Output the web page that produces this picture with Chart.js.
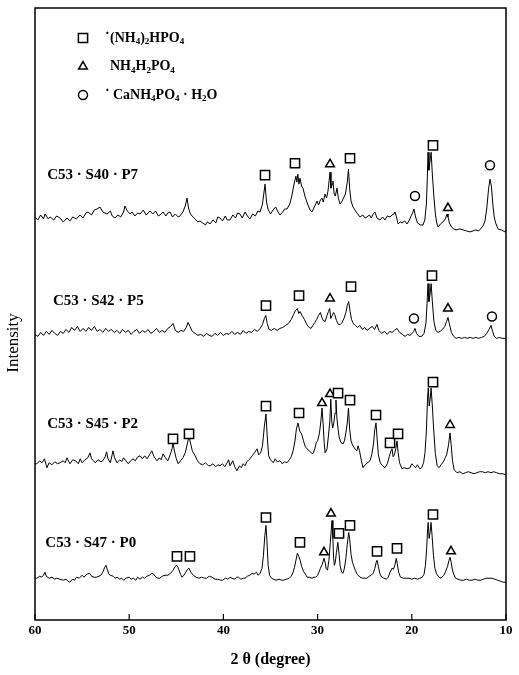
<!DOCTYPE html>
<html><head><meta charset="utf-8">
<script src="https://cdn.jsdelivr.net/npm/chart.js@4/dist/chart.umd.min.js"></script>
<style>html,body{margin:0;padding:0;background:#fff}canvas{display:block}</style>
</head><body>
<canvas id="c" width="519" height="675"></canvas>
<script>
// x tick labels (2θ, degree)
const xTicks = [60, 50, 40, 30, 20, 10];
const sampleNames = ['C53 · S40 · P7', 'C53 · S42 · P5', 'C53 · S45 · P2', 'C53 · S47 · P0'];
const legendLabels = ['(NH₄)₂HPO₄', 'NH₄H₂PO₄', 'CaNH₄PO₄ · H₂O'];

// intensity traces [2θ, stacked intensity]
const traceP7 = [[60.0,405],[59.7,402],[59.4,407],[59.1,403],[58.94,408],[58.6,403],[58.4,405],[58.0,402],[57.7,406],[57.35,404],[57.0,400],[56.6,404],[56.28,401],[56.0,405],[55.6,403],[55.22,407],[54.9,404],[54.6,409],[54.37,410],[54.0,407],[53.7,412],[53.42,413],[53.1,415],[52.8,410],[52.36,408],[52.0,411],[51.8,406],[51.5,404],[51.2,407],[50.9,405],[50.6,410],[50.45,416],[50.2,411],[49.9,408],[49.7,410],[49.4,406],[49.1,409],[48.85,408],[48.5,412],[48.2,407],[47.79,411],[47.5,408],[47.2,411],[46.9,406],[46.73,407],[46.4,410],[46.1,406],[45.9,409],[45.67,410],[45.4,405],[45.1,408],[44.8,405],[44.61,406],[44.3,410],[44.05,416],[43.86,424],[43.7,414],[43.5,408],[43.33,406],[43.0,403],[42.7,400],[42.48,401],[42.2,399],[41.9,397],[41.7,400],[41.42,398],[41.1,402],[40.8,399],[40.6,405],[40.36,404],[40.1,401],[39.8,406],[39.6,402],[39.3,402],[39.0,407],[38.7,404],[38.5,409],[38.24,408],[38.0,404],[37.7,410],[37.45,406],[37.18,403],[36.9,408],[36.6,406],[36.35,411],[36.11,410],[35.85,418],[35.58,438],[35.42,420],[35.27,413],[35.0,408],[34.73,412],[34.45,415],[34.2,410],[33.99,407],[33.7,410],[33.5,413],[33.25,413],[32.95,418],[32.72,427],[32.5,438],[32.3,446],[32.2,440],[32.1,448],[31.98,438],[31.87,444],[31.7,436],[31.55,434],[31.35,426],[31.02,417],[30.8,412],[30.59,410],[30.4,414],[30.2,418],[30.06,421],[29.9,417],[29.7,422],[29.53,424],[29.4,420],[29.21,428],[29.05,424],[28.9,431],[28.78,441],[28.68,450],[28.58,434],[28.45,438],[28.37,441],[28.25,429],[28.12,426],[27.94,434],[27.8,424],[27.62,418],[27.45,420],[27.3,423],[27.05,428],[26.85,440],[26.72,453],[26.6,434],[26.45,421],[26.24,415],[25.9,410],[25.5,405],[25.2,407],[24.95,404],[24.76,405],[24.5,407],[24.3,404],[24.1,408],[23.91,410],[23.7,404],[23.38,402],[23.1,405],[22.85,402],[22.6,406],[22.31,405],[22.1,407],[21.9,408],[21.78,410],[21.6,404],[21.46,398],[21.2,400],[21.04,399],[20.75,401],[20.51,398],[20.25,402],[20.08,406],[19.92,409],[19.77,413],[19.6,405],[19.4,399],[19.1,397],[18.81,397],[18.62,402],[18.45,418],[18.35,445],[18.28,470],[18.18,452],[18.08,460],[17.95,470],[17.82,448],[17.65,425],[17.5,408],[17.35,399],[17.22,395],[16.95,398],[16.69,400],[16.45,403],[16.25,408],[16.16,405],[16.0,399],[15.8,395],[15.55,393],[15.3,392],[14.9,393],[14.56,392],[14.2,391],[13.82,390],[13.5,391],[13.2,392],[12.9,391],[12.6,394],[12.4,397],[12.23,401],[12.05,413],[11.85,433],[11.7,443],[11.55,436],[11.4,418],[11.25,405],[11.1,399],[10.85,393],[10.5,392],[10.11,390],[10.0,392]];

const traceP5 = [[60.0,287],[59.7,285],[59.4,289],[59.1,286],[58.8,290],[58.5,287],[58.2,291],[57.9,288],[57.6,286],[57.3,290],[57.0,288],[56.7,292],[56.4,289],[56.1,294],[55.8,291],[55.5,295],[55.2,290],[54.9,293],[54.6,290],[54.3,294],[54.0,291],[53.7,295],[53.4,290],[53.1,292],[52.8,289],[52.5,293],[52.2,290],[51.9,292],[51.6,289],[51.3,291],[51.0,288],[50.7,292],[50.4,289],[50.1,291],[49.8,287],[49.5,290],[49.2,292],[48.9,288],[48.6,291],[48.3,289],[48.0,292],[47.7,288],[47.4,290],[47.1,293],[46.8,289],[46.5,291],[46.2,289],[45.9,293],[45.6,295],[45.35,298],[45.1,291],[44.8,289],[44.5,291],[44.2,290],[43.95,294],[43.75,299],[43.55,295],[43.3,290],[43.0,288],[42.7,286],[42.4,287],[42.1,285],[41.8,288],[41.5,286],[41.2,285],[40.9,288],[40.6,286],[40.3,289],[40.0,286],[39.7,288],[39.4,287],[39.1,290],[38.8,287],[38.5,289],[38.2,287],[37.9,291],[37.6,288],[37.3,290],[37.0,289],[36.7,292],[36.4,290],[36.1,293],[35.85,297],[35.65,303],[35.5,306],[35.35,298],[35.15,292],[34.9,291],[34.6,293],[34.3,291],[34.0,293],[33.7,294],[33.4,296],[33.1,298],[32.8,302],[32.55,307],[32.35,311],[32.15,313],[32.0,308],[31.85,310],[31.65,306],[31.4,302],[31.15,297],[30.9,294],[30.7,293],[30.5,296],[30.3,299],[30.1,302],[29.9,306],[29.7,309],[29.55,304],[29.4,301],[29.2,300],[29.0,306],[28.85,310],[28.72,313],[28.6,303],[28.45,306],[28.3,309],[28.18,307],[28.0,301],[27.8,297],[27.6,297],[27.4,299],[27.2,303],[27.0,309],[26.85,316],[26.7,320],[26.55,310],[26.4,302],[26.2,298],[26.0,296],[25.75,294],[25.5,296],[25.25,292],[25.0,294],[24.76,291],[24.5,293],[24.2,295],[23.95,292],[23.7,297],[23.5,291],[23.2,288],[22.9,290],[22.6,287],[22.35,290],[22.1,289],[21.85,291],[21.57,293],[21.3,289],[21.0,287],[20.72,285],[20.45,287],[20.2,286],[19.95,288],[19.8,290],[19.66,293],[19.5,288],[19.25,285],[18.95,285],[18.7,288],[18.5,298],[18.38,318],[18.28,338],[18.18,320],[18.08,326],[17.95,338],[17.82,320],[17.65,300],[17.45,291],[17.22,289],[17.0,290],[16.75,292],[16.5,295],[16.3,300],[16.16,304],[16.02,298],[15.8,289],[15.55,285],[15.3,283],[15.0,284],[14.7,283],[14.4,284],[14.1,283],[13.8,284],[13.5,283],[13.2,284],[12.9,283],[12.6,284],[12.3,285],[12.05,288],[11.8,292],[11.59,296],[11.42,290],[11.25,285],[11.0,283],[10.7,284],[10.4,283],[10.0,283]];

const traceP2 = [[60.0,157],[59.8,157],[59.5,160],[59.26,158],[59.0,162],[58.73,153],[58.5,158],[58.2,156],[57.9,159],[57.6,157],[57.35,158],[57.0,160],[56.8,158],[56.6,163],[56.4,159],[56.28,157],[56.0,161],[55.7,160],[55.4,157],[55.2,162],[55.0,158],[54.7,161],[54.4,163],[54.16,168],[54.0,162],[53.8,160],[53.6,158],[53.3,161],[53.0,159],[52.8,160],[52.55,164],[52.4,169],[52.25,162],[52.0,158],[51.72,170],[51.55,163],[51.3,158],[51.0,161],[50.8,159],[50.6,163],[50.35,160],[50.1,157],[49.85,160],[49.6,162],[49.35,160],[49.1,164],[48.85,165],[48.6,162],[48.35,165],[48.1,162],[47.85,166],[47.6,170],[47.35,164],[47.05,160],[46.8,163],[46.6,161],[46.4,167],[46.15,163],[45.9,160],[45.65,166],[45.45,172],[45.35,178],[45.2,170],[45.0,162],[44.8,157],[44.55,160],[44.3,163],[44.05,168],[43.85,176],[43.65,185],[43.5,178],[43.3,170],[43.0,165],[42.75,160],[42.48,157],[42.2,156],[41.9,158],[41.6,155],[41.4,155],[41.1,157],[40.8,154],[40.6,156],[40.36,155],[40.1,157],[39.85,154],[39.6,158],[39.45,161],[39.3,155],[39.0,160],[38.8,154],[38.56,150],[38.3,155],[38.1,153],[37.9,157],[37.7,155],[37.5,159],[37.3,161],[37.18,162],[36.95,165],[36.7,168],[36.43,172],[36.25,166],[36.05,168],[35.85,175],[35.65,195],[35.48,207],[35.35,185],[35.2,165],[35.0,161],[34.7,158],[34.5,162],[34.3,159],[34.0,160],[33.75,157],[33.5,159],[33.25,158],[33.0,161],[32.8,164],[32.6,170],[32.4,180],[32.25,192],[32.08,198],[31.9,190],[31.7,187],[31.5,180],[31.3,174],[31.1,172],[30.8,169],[30.5,167],[30.3,172],[30.15,178],[30.0,180],[29.8,188],[29.65,200],[29.53,213],[29.4,195],[29.3,178],[29.2,168],[29.0,172],[28.85,185],[28.7,200],[28.6,222],[28.5,200],[28.4,193],[28.28,198],[28.15,208],[28.05,221],[27.95,203],[27.83,192],[27.7,183],[27.5,178],[27.3,177],[27.15,180],[27.0,188],[26.85,198],[26.72,213],[26.6,192],[26.45,180],[26.3,176],[26.1,173],[25.95,171],[25.82,170],[25.7,175],[25.55,170],[25.35,160],[25.18,153],[24.95,156],[24.7,158],[24.44,160],[24.25,166],[24.05,178],[23.95,190],[23.8,198],[23.68,182],[23.55,166],[23.35,158],[23.1,155],[22.85,153],[22.6,157],[22.4,164],[22.2,170],[22.1,172],[21.98,164],[21.85,166],[21.7,172],[21.57,180],[21.45,168],[21.3,158],[21.04,152],[20.8,153],[20.5,152],[20.2,153],[20.0,157],[19.8,155],[19.6,153],[19.4,156],[19.15,152],[18.95,153],[18.75,158],[18.6,168],[18.45,190],[18.32,225],[18.25,233],[18.15,215],[18.05,222],[17.95,233],[17.82,215],[17.68,192],[17.5,167],[17.3,155],[17.1,153],[16.9,156],[16.65,159],[16.45,163],[16.3,166],[16.1,176],[15.94,188],[15.82,176],[15.68,160],[15.5,151],[15.2,148],[14.9,149],[14.6,147],[14.3,148],[14.0,149],[13.7,148],[13.4,147],[13.1,148],[12.8,149],[12.5,149],[12.2,148],[11.9,149],[11.6,148],[11.3,149],[11.0,148],[10.7,147],[10.4,147],[10.0,146]];

const traceP0 = [[60.0,42],[59.8,42],[59.5,44],[59.3,43],[59.1,45],[58.94,48],[58.8,44],[58.5,42],[58.2,43],[57.9,41],[57.7,42],[57.4,41],[57.0,40],[56.7,41],[56.5,39],[56.3,38],[56.0,41],[55.8,40],[55.6,43],[55.3,42],[55.0,45],[54.8,43],[54.5,46],[54.2,47],[54.0,44],[53.75,43],[53.5,43],[53.2,44],[53.0,45],[52.75,49],[52.6,53],[52.46,55],[52.3,50],[52.15,46],[52.0,45],[51.7,44],[51.5,42],[51.3,43],[51.0,41],[50.8,42],[50.6,40],[50.35,42],[50.0,43],[49.8,41],[49.55,42],[49.3,40],[49.1,43],[48.85,41],[48.6,43],[48.35,42],[48.1,44],[47.85,45],[47.6,47],[47.4,46],[47.15,43],[46.95,42],[46.75,42],[46.5,44],[46.2,45],[45.9,45],[45.6,47],[45.35,50],[45.1,54],[44.93,55],[44.75,51],[44.55,46],[44.4,43],[44.2,45],[44.0,48],[43.8,51],[43.65,52],[43.45,48],[43.2,45],[42.9,43],[42.6,42],[42.3,43],[42.0,42],[41.8,42],[41.5,44],[41.2,43],[40.9,41],[40.6,41],[40.3,40],[40.1,40],[39.8,42],[39.5,41],[39.3,43],[39.1,42],[38.8,41],[38.6,43],[38.4,43],[38.15,41],[37.9,42],[37.7,42],[37.45,44],[37.2,45],[36.95,47],[36.75,46],[36.5,48],[36.3,45],[36.1,47],[35.9,52],[35.75,65],[35.6,85],[35.48,95],[35.38,80],[35.25,55],[35.1,45],[34.9,42],[34.7,41],[34.4,40],[34.1,41],[33.8,40],[33.6,40],[33.3,41],[33.0,42],[32.8,44],[32.6,48],[32.45,53],[32.3,60],[32.15,67],[32.0,64],[31.85,60],[31.7,54],[31.5,49],[31.3,46],[31.1,43],[30.9,43],[30.6,42],[30.4,43],[30.2,43],[30.0,45],[29.85,48],[29.7,52],[29.5,56],[29.32,62],[29.2,58],[29.1,52],[28.95,50],[28.8,60],[28.65,78],[28.47,100],[28.38,82],[28.3,62],[28.22,55],[28.12,58],[28.0,68],[27.85,78],[27.72,66],[27.6,54],[27.45,48],[27.3,47],[27.15,52],[27.0,62],[26.85,76],[26.7,88],[26.6,82],[26.45,66],[26.3,58],[26.15,54],[26.0,50],[25.8,46],[25.5,43],[25.2,42],[24.95,42],[24.76,42],[24.5,44],[24.3,45],[24.1,47],[23.92,52],[23.78,58],[23.69,60],[23.55,54],[23.4,47],[23.2,43],[22.95,42],[22.7,41],[22.5,43],[22.31,48],[22.1,52],[21.95,51],[21.8,55],[21.65,62],[21.55,57],[21.4,48],[21.2,43],[20.9,42],[20.6,42],[20.3,42],[20.0,41],[19.7,42],[19.4,41],[19.15,42],[18.9,43],[18.7,46],[18.55,55],[18.42,72],[18.32,92],[18.26,98],[18.16,82],[18.06,88],[17.96,98],[17.85,85],[17.7,65],[17.55,52],[17.4,47],[17.2,44],[17.0,42],[16.8,43],[16.6,45],[16.4,49],[16.2,54],[16.05,60],[15.94,63],[15.82,58],[15.68,50],[15.55,46],[15.35,42],[15.1,41],[14.8,40],[14.5,40],[14.2,41],[13.9,40],[13.6,40],[13.3,41],[13.0,40],[12.7,40],[12.4,41],[12.1,42],[11.8,42],[11.5,42],[11.2,41],[10.9,40],[10.6,39],[10.3,38],[10.0,38]];

// phase markers [2θ, intensity]
const dapPeaks = [[35.58,447],[32.40,459],[26.56,464],[17.75,477],
  [35.48,316],[31.97,326],[26.45,335],[17.86,346],
  [45.35,182],[43.65,187],[35.48,215],[31.97,208],[27.83,228],[26.56,221],[23.80,206],[22.31,178],[21.46,187],[17.75,239],
  [44.93,64],[43.55,64],[35.48,103],[31.87,78],[27.73,87],[26.56,95],[23.69,69],[21.57,72],[17.75,106]];
const mapPeaks = [[28.68,458],[16.16,414],
  [28.68,323],[16.16,313],
  [29.53,218],[28.68,227],[15.94,196],
  [29.32,68],[28.58,107],[15.84,69]];
const capPeaks = [[19.66,426],[11.70,457],
  [19.77,303],[11.49,305]];

// sample label anchors [2θ, intensity]
const sampleLabelAt = [[58.7,447],[58.1,320],[58.7,197],[58.9,77]];

const toXY = a => a.map(p => ({x: p[0], y: p[1]}));
const SERIF = '"Liberation Serif", "DejaVu Serif", serif';
const SUBS = {'₀':'0','₁':'1','₂':'2','₃':'3','₄':'4','₅':'5','₆':'6','₇':'7','₈':'8','₉':'9'};

function drawRich(ctx, text, x, y, size) {
  let i = 0;
  while (i < text.length) {
    const sub = !!SUBS[text[i]];
    let seg = '';
    while (i < text.length && !!SUBS[text[i]] === sub) { seg += sub ? SUBS[text[i]] : text[i]; i++; }
    ctx.font = 'bold ' + (sub ? Math.round(size * 0.62) : size) + 'px ' + SERIF;
    ctx.fillText(seg, x, sub ? y + size * 0.28 : y);
    x += ctx.measureText(seg).width;
  }
}

const deco = {
  id: 'deco',
  afterDraw(chart) {
    const {ctx, chartArea: a, scales: {x, y}} = chart;
    ctx.save();
    ctx.strokeStyle = '#000';
    ctx.lineWidth = 1.5;
    ctx.strokeRect(a.left, a.top, a.right - a.left, a.bottom - a.top);
    ctx.lineWidth = 1.2;
    xTicks.forEach(v => {
      const px = x.getPixelForValue(v);
      ctx.beginPath(); ctx.moveTo(px, a.bottom); ctx.lineTo(px, a.bottom - 6); ctx.stroke();
    });
    ctx.fillStyle = '#000';
    ctx.textBaseline = 'middle';
    ctx.textAlign = 'left';
    ctx.font = 'bold 15px ' + SERIF;
    sampleNames.forEach((t, i) => ctx.fillText(t, x.getPixelForValue(sampleLabelAt[i][0]), y.getPixelForValue(sampleLabelAt[i][1])));
    // y title
    ctx.save();
    ctx.translate(a.left - 21, a.top + 335);
    ctx.rotate(-Math.PI / 2);
    ctx.textAlign = 'center';
    ctx.font = '17px ' + SERIF;
    ctx.fillText('Intensity', 0, 0);
    ctx.restore();
    // legend
    const styles = ['rect', 'triangle', 'circle'];
    const radii = [6.5, 5, 4.5];
    const dots = [true, false, true];
    legendLabels.forEach((t, i) => {
      const ly = a.top + 30 + i * 28.5;
      const lx = a.left + 48;
      ctx.fillStyle = '#fff';
      ctx.strokeStyle = '#000';
      ctx.lineWidth = 1.5;
      Chart.helpers.drawPoint(ctx, {pointStyle: styles[i], radius: radii[i], borderWidth: 1.5, rotation: 0}, lx, ly);
      ctx.fillStyle = '#000';
      ctx.textAlign = 'left';
      ctx.textBaseline = 'middle';
      if (dots[i]) { ctx.font = 'bold 14px ' + SERIF; ctx.fillText('·', lx + 22, ly - 4); }
      drawRich(ctx, t, lx + (i === 2 ? 30 : 27), ly, 14);
    });
    ctx.restore();
  }
};

const lineDs = d => ({data: toXY(d), showLine: true, borderColor: '#000', borderWidth: 1, pointRadius: 0, tension: 0, order: 2});
const markDs = (d, style, r) => ({data: toXY(d), showLine: false, pointStyle: style, pointRadius: r, pointBorderWidth: 1.5, borderColor: '#000', backgroundColor: '#fff', order: 1});

new Chart(document.getElementById('c'), {
  type: 'scatter',
  data: {datasets: [
    lineDs(traceP7), lineDs(traceP5), lineDs(traceP2), lineDs(traceP0),
    markDs(dapPeaks, 'rect', 6.5), markDs(mapPeaks, 'triangle', 5), markDs(capPeaks, 'circle', 4.5)
  ]},
  options: {
    responsive: false, animation: false, devicePixelRatio: 1,
    layout: {padding: {left: 35, right: 13, top: 5, bottom: 3}},
    plugins: {legend: {display: false}, tooltip: {enabled: false}},
    scales: {
      x: {
        type: 'linear', reverse: true, min: 10, max: 60,
        grid: {display: false, drawTicks: false}, border: {display: false},
        afterBuildTicks: s => { s.ticks = xTicks.map(v => ({value: v})); },
        ticks: {color: '#000', font: {family: SERIF, size: 13, weight: 'bold'}, padding: 3, maxRotation: 0, autoSkip: false},
        title: {display: true, text: '2 θ (degree)', color: '#000', font: {family: SERIF, size: 16, weight: 'bold'}, padding: {top: 8.8, bottom: 2.4}}
      },
      y: {display: false, min: 0, max: 615}
    }
  },
  plugins: [deco]
});
</script>
</body></html>
